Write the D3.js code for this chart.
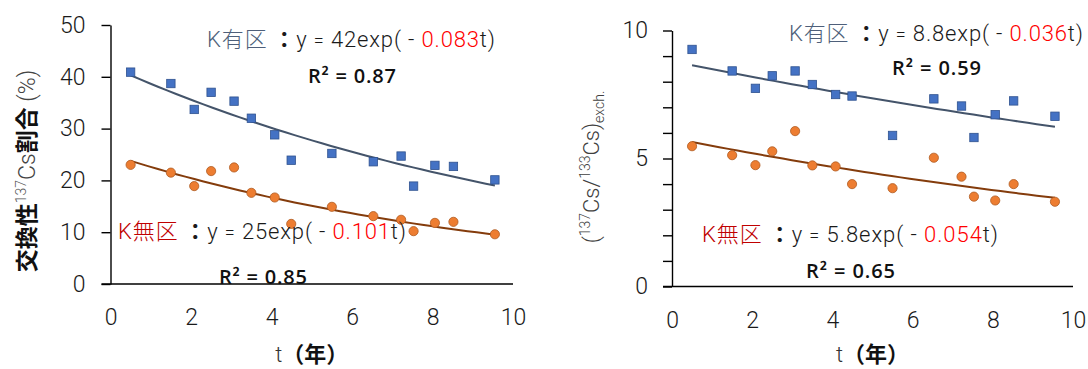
<!DOCTYPE html>
<html lang="ja">
<head>
<meta charset="UTF-8">
<script src="https://d3js.org/d3.v7.min.js"></script>
<style>
  body { margin: 0; background: #fff; }
  svg { display: block; }
</style>
</head>
<body>
<script>
  // elapsed years (shared by both panels)
  var years = [0.5, 1.5, 2.08, 2.5, 3.07, 3.5, 4.08, 4.49, 5.5, 6.53, 7.22, 7.53, 8.06, 8.52, 9.55];
  var xTicks = [0, 2, 4, 6, 8, 10];

  // left panel: exchangeable 137Cs share (%)
  var shareKplus  = [40.9, 38.7, 33.7, 37.0, 35.3, 32.0, 28.8, 23.9, 25.2, 23.6, 24.7, 18.9, 22.9, 22.7, 20.1];
  var shareKminus = [23.0, 21.5, 18.9, 21.8, 22.5, 17.6, 16.7, 11.6, 14.9, 13.1, 12.4, 10.2, 11.8, 12.0, 9.6];
  var shareTicks = [0, 10, 20, 30, 40, 50];

  // right panel: (137Cs/133Cs)exch.
  var ratioKplus  = [9.26, 8.42, 7.74, 8.23, 8.42, 7.89, 7.50, 7.44, 5.90, 7.33, 7.05, 5.82, 6.71, 7.25, 6.65];
  var ratioKminus = [5.48, 5.13, 4.74, 5.28, 6.07, 4.73, 4.69, 4.00, 3.84, 5.03, 4.29, 3.51, 3.36, 4.00, 3.31];
  var ratioTicks = [0, 1, 2, 3, 4, 5, 6, 7, 8, 9, 10];
  var ratioLabels = [0, 5, 10];

  // fitted curves y = a*exp(-k t)
  var plotNames = ['K有区', 'K無区'];
  var shareFitA = [42, 25], shareFitK = [0.083, 0.101], shareR2 = [0.87, 0.85];
  var ratioFitA = [8.8, 5.8], ratioFitK = [0.036, 0.054], ratioR2 = [0.59, 0.65];

  var FONT = '"Noto Sans CJK JP", "Noto Sans", sans-serif';
  var LIGHT = 'Roboto, "Noto Sans CJK JP", sans-serif';
  var BLUE = '#4472c4', BLUE_EDGE = '#2f528f', BLUE_LINE = '#44546a';
  var ORANGE = '#ed7d31', ORANGE_EDGE = '#ae5a21', BROWN_LINE = '#843c0c';

  var svg = d3.select('body').append('svg')
    .attr('width', 1088)
    .attr('height', 369)
    .style('font-family', FONT);

  function drawPanel(p) {
    var g = svg.append('g');
    var x = d3.scaleLinear().domain([0, 10]).range([p.left, p.right]);
    var y = d3.scaleLinear().domain([0, p.yMax]).range([p.bottom, p.top]);

    // y axis
    g.append('g')
      .attr('transform', 'translate(' + p.left + ',0)')
      .call(d3.axisLeft(y).tickValues(p.yTicks).tickSize(9).tickSizeOuter(0)
        .tickPadding(p.yPad)
        .tickFormat(function(d) { return p.yLabels.indexOf(d) > -1 ? d : ''; }));
    // x axis (no tick marks)
    var xa = g.append('g')
      .attr('transform', 'translate(0,' + p.bottom + ')')
      .call(d3.axisBottom(x).tickValues(xTicks).tickSize(0).tickPadding(25));
    xa.select('.domain').remove();
    g.append('line')
      .attr('x1', p.left - 9).attr('x2', x(10))
      .attr('y1', p.bottom).attr('y2', p.bottom)
      .attr('stroke', '#000').attr('stroke-width', 1.4);

    g.selectAll('.domain, .tick line').attr('stroke', '#000').attr('stroke-width', 1.4);
    g.selectAll('.tick text')
      .attr('fill', '#1a1a1a')
      .style('font-family', LIGHT)
      .style('font-size', '23px')
      .style('font-weight', 300);

    // trend curves
    var line = d3.line()
      .x(function(d) { return x(d[0]); })
      .y(function(d) { return y(d[1]); });
    var t0 = years[0], t1 = years[years.length - 1];
    [[p.fitA[0], p.fitK[0], BLUE_LINE], [p.fitA[1], p.fitK[1], BROWN_LINE]].forEach(function(f) {
      var pts = d3.range(0, 41).map(function(i) {
        var t = t0 + (t1 - t0) * i / 40;
        return [t, f[0] * Math.exp(-f[1] * t)];
      });
      g.append('path').datum(pts)
        .attr('d', line)
        .attr('fill', 'none')
        .attr('stroke', f[2])
        .attr('stroke-width', 2);
    });

    // markers
    g.selectAll('rect.kp').data(p.seriesA).enter().append('rect')
      .attr('class', 'kp')
      .attr('x', function(d, i) { return x(years[i]) - 4.2; })
      .attr('y', function(d) { return y(d) - 4.2; })
      .attr('width', 8.4).attr('height', 8.4)
      .attr('fill', BLUE).attr('stroke', BLUE_EDGE).attr('stroke-width', 0.8);
    g.selectAll('circle.km').data(p.seriesB).enter().append('circle')
      .attr('class', 'km')
      .attr('cx', function(d, i) { return x(years[i]); })
      .attr('cy', function(d) { return y(d); })
      .attr('r', 4.6)
      .attr('fill', ORANGE).attr('stroke', ORANGE_EDGE).attr('stroke-width', 0.8);

    // equations
    [0, 1].forEach(function(i) {
      var e = p.eq[i];
      var t = g.append('text')
        .attr('x', e[0]).attr('y', e[1])
        .attr('textLength', e[2]).attr('lengthAdjust', 'spacing')
        .style('font-family', LIGHT)
        .style('font-weight', 300)
        .style('font-size', '22px');
      t.append('tspan').attr('fill', i === 0 ? '#4e5f7a' : '#c00000').text(plotNames[i]);
      t.append('tspan').attr('fill', '#1a1a1a').style('font-family', FONT).style('font-weight', 700).text(' ：');
      t.append('tspan').attr('fill', '#1a1a1a').text('y ');
      t.append('tspan').attr('fill', '#1a1a1a').style('font-size', '18px').text('=');
      t.append('tspan').attr('fill', '#1a1a1a').text(' ' + p.fitA[i] + 'exp( - ');
      t.append('tspan').attr('fill', '#ff0000').text(d3.format('.3f')(p.fitK[i]));
      t.append('tspan').attr('fill', '#1a1a1a').text('t)');

      var r = p.r2[i];
      g.append('text')
        .attr('x', r[0]).attr('y', r[1])
        .attr('textLength', r[2]).attr('lengthAdjust', 'spacing')
        .attr('fill', '#111')
        .style('font-family', '"Open Sans", sans-serif')
        .style('font-size', '20px')
        .style('font-weight', 600)
        .text('R² = ' + d3.format('.2f')(p.r2v[i]));
    });

    // x title
    var xt = g.append('text')
      .attr('x', (p.left + p.right) / 2).attr('y', 362)
      .attr('text-anchor', 'middle')
      .style('font-size', '22px');
    xt.append('tspan').attr('fill', '#333').style('font-family', LIGHT).style('font-weight', 300).text('t');
    xt.append('tspan').attr('fill', '#111').style('font-weight', 700).text('（年）');
    return g;
  }

  drawPanel({
    left: 110.5, right: 513, top: 25, bottom: 284, yMax: 50,
    yTicks: shareTicks, yLabels: shareTicks, yPad: 16,
    seriesA: shareKplus, seriesB: shareKminus,
    fitA: shareFitA, fitK: shareFitK, r2v: shareR2,
    eq: [[207, 47, 288], [118, 239, 288]],
    r2: [[308, 83, 88], [219, 284, 88]]
  });

  drawPanel({
    left: 672, right: 1073, top: 30.5, bottom: 286.5, yMax: 10,
    yTicks: ratioTicks, yLabels: ratioLabels, yPad: 15,
    seriesA: ratioKplus, seriesB: ratioKminus,
    fitA: ratioFitA, fitK: ratioFitK, r2v: ratioR2,
    eq: [[789, 41, 294], [702, 241.5, 296]],
    r2: [[892, 75, 89], [806, 278, 89]]
  });

  // left y title
  var lt = svg.append('text')
    .attr('transform', 'translate(35,171) rotate(-90)')
    .attr('text-anchor', 'middle')
    .style('font-size', '23px');
  lt.append('tspan').attr('fill', '#111').style('font-weight', 700).text('交換性');
  lt.append('tspan').attr('fill', '#555').attr('dy', -9).style('font-family', LIGHT).style('font-size', '14px').style('font-weight', 300).text('137');
  lt.append('tspan').attr('fill', '#444').attr('dy', 9).style('font-family', LIGHT).style('font-weight', 300).text('Cs');
  lt.append('tspan').attr('fill', '#111').style('font-weight', 700).text('割合');
  lt.append('tspan').attr('fill', '#444').style('font-family', LIGHT).style('font-weight', 300).text(' (%)');

  // right y title
  var rt = svg.append('text')
    .attr('transform', 'translate(599,167) rotate(-90)')
    .attr('text-anchor', 'middle')
    .attr('fill', '#404040')
    .style('font-family', LIGHT)
    .style('font-size', '22px')
    .style('font-weight', 300);
  rt.append('tspan').text('(');
  rt.append('tspan').attr('dy', -9).style('font-size', '14px').text('137');
  rt.append('tspan').attr('dy', 9).text('Cs/');
  rt.append('tspan').attr('dy', -9).style('font-size', '14px').text('133');
  rt.append('tspan').attr('dy', 9).text('Cs)');
  rt.append('tspan').attr('dy', 5).style('font-size', '14px').text('exch.');
</script>
</body>
</html>
